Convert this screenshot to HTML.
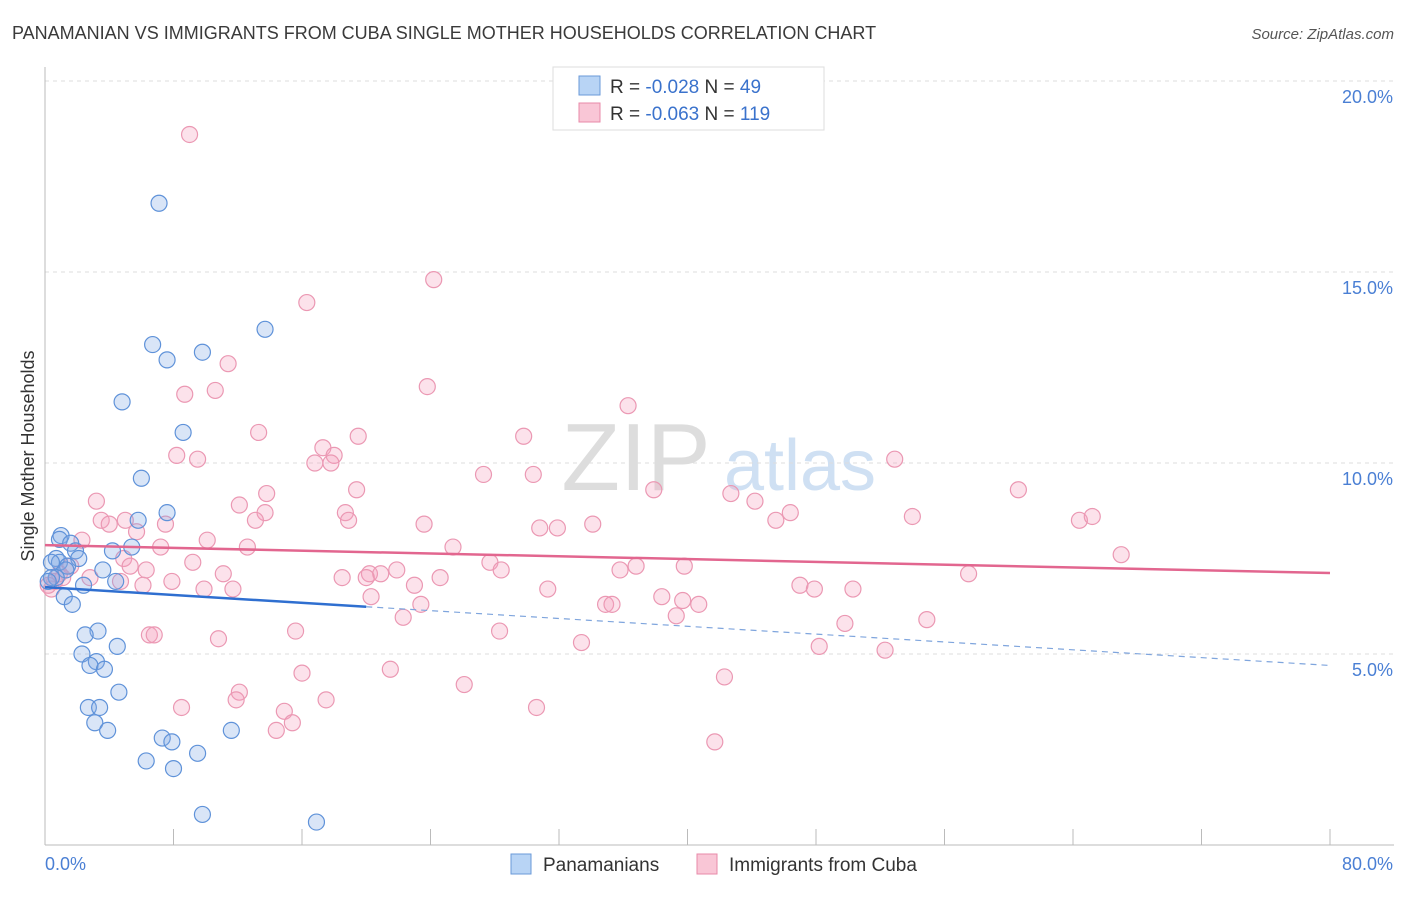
<!DOCTYPE html>
<html><head><meta charset="utf-8"><style>
body{margin:0;background:#fff;font-family:"Liberation Sans",sans-serif;}
svg text{font-family:"Liberation Sans",sans-serif;}
</style></head><body>
<svg id="chart" width="1406" height="892" xmlns="http://www.w3.org/2000/svg">
<text x="12" y="39" font-size="18" fill="#3a3a3a">PANAMANIAN VS IMMIGRANTS FROM CUBA SINGLE MOTHER HOUSEHOLDS CORRELATION CHART</text>
<text x="1394" y="39" font-size="15" fill="#555" font-style="italic" text-anchor="end">Source: ZipAtlas.com</text>
<text x="636" y="490" font-size="96" fill="#ddd" font-family="Liberation Serif" text-anchor="middle">ZIP</text>
<text x="800" y="490" font-size="72" fill="#cfe0f3" text-anchor="middle">atlas</text>
<g id="grid"></g><g id="axes"></g><g id="pts"></g><g id="lines"></g>
<text transform="translate(34,456) rotate(-90)" font-size="18" fill="#333" text-anchor="middle">Single Mother Households</text>
<text x="45" y="870" font-size="18" fill="#4a7fd4">0.0%</text>
<text x="1393" y="870" font-size="18" fill="#4a7fd4" text-anchor="end">80.0%</text>
<g>
<rect x="553" y="67" width="271" height="63" fill="#fff" stroke="#ddd"/>
<rect x="579" y="76" width="21" height="19" fill="#b8d4f5" stroke="#6a9ad8"/>
<rect x="579" y="103" width="21" height="19" fill="#f9c6d6" stroke="#e88aa8"/>
<text x="610" y="93" font-size="19" fill="#333">R = <tspan fill="#3a72cc">-0.028</tspan>   N = <tspan fill="#3a72cc"> 49</tspan></text>
<text x="610" y="120" font-size="19" fill="#333">R = <tspan fill="#3a72cc">-0.063</tspan>   N = <tspan fill="#3a72cc">119</tspan></text>
</g>
<g>
<rect x="511" y="854" width="20" height="20" fill="#b8d4f5" stroke="#6a9ad8"/>
<text x="543" y="871" font-size="19" fill="#333">Panamanians</text>
<rect x="697" y="854" width="20" height="20" fill="#f9c6d6" stroke="#e88aa8"/>
<text x="729" y="871" font-size="19" fill="#333">Immigrants from Cuba</text>
</g>
</svg>
<script>
const yTicks=[5,10,15,20];
const yTickLabels=["5.0%","10.0%","15.0%","20.0%"];
const xTickVals=[0,8,16,24,32,40,48,56,64,72,80];
const blueX=[7.1,13.7,6.7,7.6,9.8,4.8,8.6,6.0,7.6,5.8,1.0,0.9,1.6,1.9,4.2,5.4,2.1,0.7,0.9,0.4,1.4,1.3,3.6,0.7,0.4,0.2,4.4,2.4,1.2,1.7,3.3,2.5,4.5,2.3,3.2,2.8,3.7,4.6,2.7,3.4,3.1,3.9,11.6,7.3,7.9,9.5,6.3,8.0,9.8,16.9];
const blueY=[16.8,13.5,13.1,12.7,12.9,11.6,10.8,9.6,8.7,8.5,8.1,8.0,7.9,7.7,7.7,7.8,7.5,7.5,7.4,7.4,7.3,7.2,7.2,7.0,7.0,6.9,6.9,6.8,6.5,6.3,5.6,5.5,5.2,5.0,4.8,4.7,4.6,4.0,3.6,3.6,3.2,3.0,3.0,2.8,2.7,2.4,2.2,2.0,0.8,0.6];
const pinkX=[9.0,24.2,16.3,11.4,23.8,8.7,10.6,36.3,13.3,19.5,29.8,17.3,18.0,8.2,9.5,16.8,17.8,52.9,27.3,30.4,13.8,19.4,37.9,42.7,44.2,60.6,3.2,12.1,13.7,18.7,18.9,3.5,5.0,13.1,23.6,30.8,31.9,34.1,46.4,45.5,54.0,64.4,65.2,5.7,4.0,7.5,2.3,10.1,25.4,7.2,12.6,67.0,4.9,27.7,5.3,0.9,1.6,9.2,6.3,28.4,39.8,1.1,2.8,11.1,20.2,21.9,24.6,18.5,20.9,20.0,35.8,36.8,57.5,6.1,7.9,4.7,23.0,47.0,47.9,50.3,31.3,9.9,11.7,20.3,23.4,38.4,39.7,40.7,34.9,35.3,22.3,39.3,49.8,54.9,15.6,28.3,6.5,6.8,10.8,33.4,48.2,52.3,16.0,21.5,26.1,42.3,12.1,11.9,8.5,17.5,30.6,14.9,15.4,14.4,41.7,0.4,0.6,0.2];
const pinkY=[18.6,14.8,14.2,12.6,12.0,11.8,11.9,11.5,10.8,10.7,10.7,10.4,10.2,10.2,10.1,10.0,10.0,10.1,9.7,9.7,9.2,9.3,9.3,9.2,9.0,9.3,9.0,8.9,8.7,8.7,8.5,8.5,8.5,8.5,8.4,8.3,8.3,8.4,8.7,8.5,8.6,8.5,8.6,8.2,8.4,8.4,7.98,7.98,7.8,7.8,7.8,7.6,7.5,7.4,7.3,7.1,7.3,7.4,7.2,7.2,7.3,7.0,7.0,7.1,7.1,7.2,7.0,7.0,7.1,7.0,7.2,7.3,7.1,6.8,6.9,6.9,6.8,6.8,6.7,6.7,6.7,6.7,6.7,6.5,6.3,6.5,6.4,6.3,6.3,6.3,5.96,6.0,5.8,5.9,5.6,5.6,5.5,5.5,5.4,5.3,5.2,5.1,4.5,4.6,4.2,4.4,4.0,3.8,3.6,3.8,3.6,3.5,3.2,3.0,2.7,6.7,6.9,6.8];
const pinkTrend=[7.85,7.12];
const blueTrend=[6.75,4.7];
const blueSolidEnd=20;
const NS="http://www.w3.org/2000/svg";
const X0=45,X1=1330,Y0=845,YPX=38.2;
const sx=v=>X0+v/80*(X1-X0), sy=v=>Y0-v*YPX;
function mk(t,a,p){const e=document.createElementNS(NS,t);for(const k in a)e.setAttribute(k,a[k]);p.appendChild(e);return e;}
const grid=document.getElementById('grid'),axes=document.getElementById('axes'),pts=document.getElementById('pts'),lines=document.getElementById('lines');
yTicks.forEach((v,i)=>{
 const l=mk('line',{x1:X0,x2:1394,y1:sy(v),y2:sy(v),stroke:'#ddd','stroke-dasharray':'4,4'},grid);
 
 
 const t=mk('text',{x:1393,y:sy(v)+22,'font-size':18,fill:'#4a7fd4','text-anchor':'end'},grid);
 t.textContent=yTickLabels[i];
 
 
});
const ya=mk('line',{x1:X0,x2:X0,y1:67,y2:Y0,stroke:'#bbb'},axes);


const xa=mk('line',{x1:X0,x2:1394,y1:Y0,y2:Y0,stroke:'#bbb'},axes);


xTickVals.forEach(v=>{
 const t=mk('line',{x1:sx(v),x2:sx(v),y1:829,y2:Y0,stroke:'#bbb'},axes);
 
 
});
pinkX.forEach((x,i)=>{
 const c=mk('circle',{cx:sx(x),cy:sy(pinkY[i]),r:8,fill:'rgba(244,160,188,0.3)',stroke:'#eb98b3','stroke-width':1.2},pts);
 
 
});
blueX.forEach((x,i)=>{
 const c=mk('circle',{cx:sx(x),cy:sy(blueY[i]),r:8,fill:'rgba(130,170,230,0.3)',stroke:'#5f92d9','stroke-width':1.2},pts);
 
 
});
const pl=mk('line',{x1:sx(0),y1:sy(pinkTrend[0]),x2:sx(80),y2:sy(pinkTrend[1]),stroke:'#e2668f','stroke-width':2.5},lines);


const bAt=v=>blueTrend[0]+(blueTrend[1]-blueTrend[0])*v/80;
const bl=mk('line',{x1:sx(0),y1:sy(bAt(0)),x2:sx(blueSolidEnd),y2:sy(bAt(blueSolidEnd)),stroke:'#2f6fd0','stroke-width':2.5},lines);


const bd=mk('line',{x1:sx(blueSolidEnd),y1:sy(bAt(blueSolidEnd)),x2:sx(80),y2:sy(bAt(80)),stroke:'#7fa5dd','stroke-width':1.2,'stroke-dasharray':'6,5'},lines);


</script>
</body></html>
